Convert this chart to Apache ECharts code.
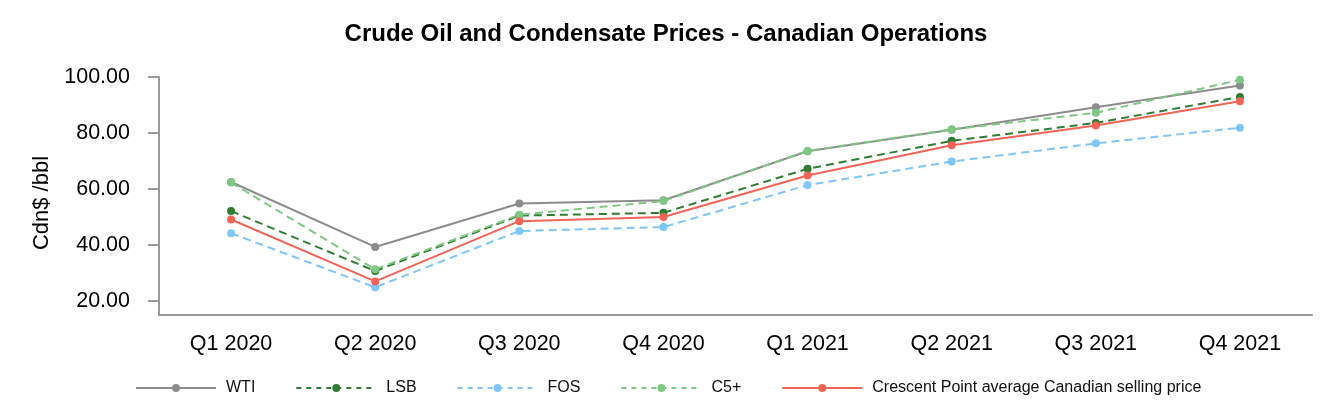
<!DOCTYPE html>
<html>
<head>
<meta charset="utf-8">
<script src="https://cdn.jsdelivr.net/npm/echarts@6/dist/echarts.min.js"></script>
<style>
    html, body {margin: 0; padding: 0; background: #fff;}
    #chart {width: 1332px; height: 420px;}
</style>
</head>
<body>
<div id="chart"></div>
<script>
    let quarters = ['Q1 2020', 'Q2 2020', 'Q3 2020', 'Q4 2020', 'Q1 2021', 'Q2 2021', 'Q3 2021', 'Q4 2021'];
    let wti = [62.5, 39.3, 54.8, 56.0, 73.5, 81.2, 89.2, 97.0];
    let lsb = [52.1, 30.7, 50.5, 51.5, 67.2, 77.2, 83.6, 92.9];
    let fos = [44.2, 24.9, 45.0, 46.4, 61.4, 69.8, 76.3, 81.9];
    let c5 = [62.3, 31.3, 50.8, 55.7, 73.6, 81.3, 87.2, 99.0];
    let crescent = [49.1, 27.0, 48.5, 50.0, 64.8, 75.6, 82.7, 91.3];
    let yTicks = [20, 40, 60, 80, 100];

    let colors = {
        wti: '#8c8c8c',
        lsb: '#2e7d32',
        fos: '#81c6f9',
        c5: '#81c784',
        crescent: '#f26457'
    };

    function lineSeries(name, data, color, dashed) {
        return {
            name: name,
            type: 'line',
            data: data,
            symbol: 'circle',
            symbolSize: 8,
            itemStyle: {color: color},
            lineStyle: {color: color, width: 2, type: dashed ? [8, 5] : 'solid'},
            emphasis: {disabled: true}
        };
    }

    function legendItem(name, dashed) {
        return {
            name: name,
            lineStyle: dashed ? {type: [5, 5]} : {}
        };
    }

    let option = {
        animation: false,
        textStyle: {fontFamily: 'Liberation Sans, Arial, sans-serif'},
        title: {
            text: 'Crude Oil and Condensate Prices - Canadian Operations',
            left: 'center',
            top: 17,
            textStyle: {fontSize: 24, fontWeight: 'bold', color: '#000'}
        },
        legend: {
            left: 135,
            top: 380,
            padding: 0,
            itemWidth: 80,
            itemHeight: 10,
            itemGap: 40,
            textStyle: {fontSize: 16, color: '#111', padding: [0, 0, 0, 5]},
            data: [
                legendItem('WTI', false),
                legendItem('LSB', true),
                legendItem('FOS', true),
                legendItem('C5+', true),
                legendItem('Crescent Point average Canadian selling price', false)
            ]
        },
        grid: {left: 159, right: 20, top: 77, bottom: 105},
        xAxis: {
            type: 'category',
            data: quarters,
            boundaryGap: true,
            axisLine: {lineStyle: {color: '#9a9a9a', width: 2}},
            axisTick: {alignWithLabel: true, length: 12, lineStyle: {color: '#9a9a9a', width: 2}},
            axisLabel: {fontSize: 21.5, color: '#000', margin: 18}
        },
        yAxis: {
            type: 'value',
            min: 15,
            max: 100,
            name: 'Cdn$ /bbl',
            nameLocation: 'middle',
            nameGap: 106,
            nameTextStyle: {fontSize: 22, color: '#000', padding: [0, 14, 0, 0]},
            splitLine: {show: false},
            axisLine: {show: true, lineStyle: {color: '#9a9a9a', width: 2}},
            axisTick: {show: true, length: 11, customValues: yTicks, lineStyle: {color: '#9a9a9a', width: 2}},
            axisLabel: {
                fontSize: 21.5,
                color: '#000',
                margin: 29,
                padding: [5, 0, 0, 0],
                customValues: yTicks,
                formatter: function (value) {
                    return value.toFixed(2);
                }
            }
        },
        series: [
            lineSeries('WTI', wti, colors.wti, false),
            lineSeries('LSB', lsb, colors.lsb, true),
            lineSeries('FOS', fos, colors.fos, true),
            lineSeries('C5+', c5, colors.c5, true),
            lineSeries('Crescent Point average Canadian selling price', crescent, colors.crescent, false)
        ]
    };
    echarts.init(document.getElementById('chart')).setOption(option);
</script>
</body>
</html>
